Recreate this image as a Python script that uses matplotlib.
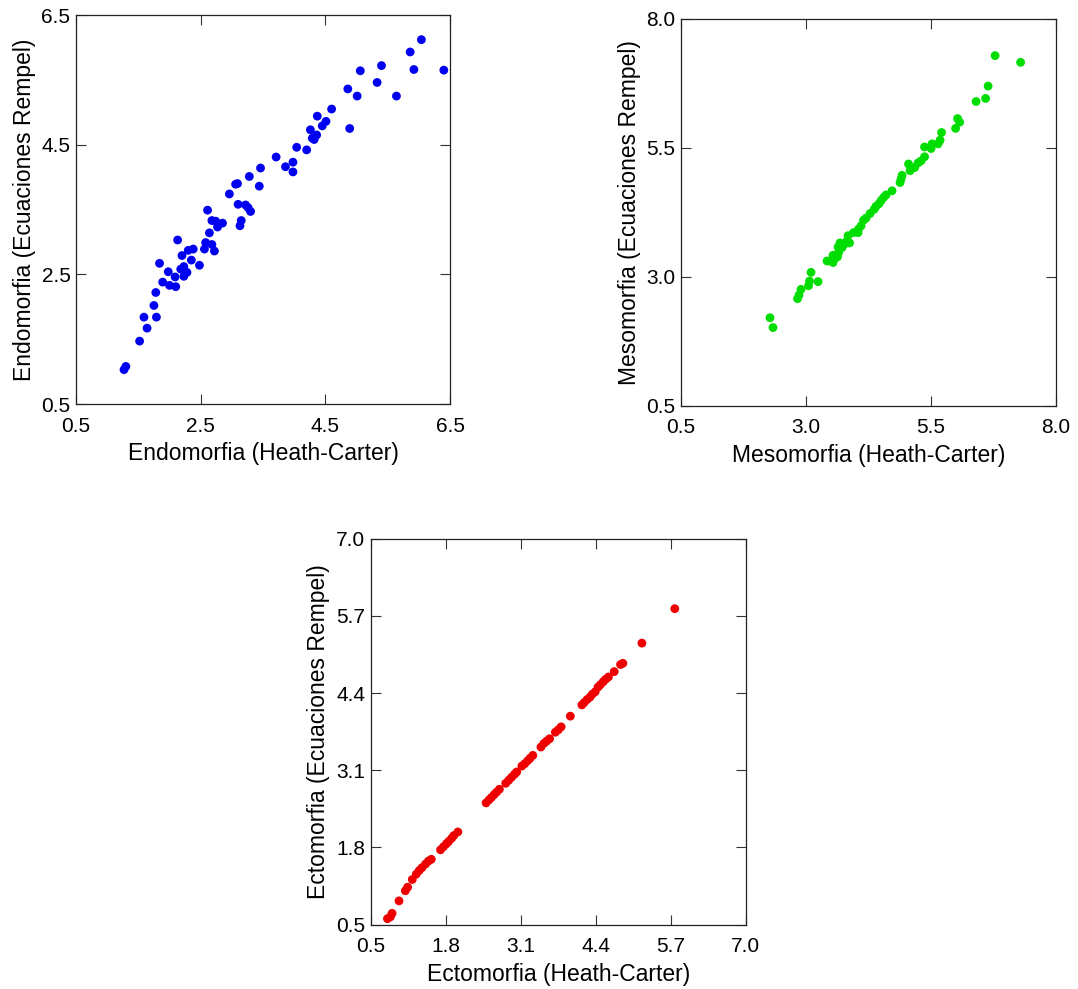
import matplotlib
matplotlib.use("Agg")
import matplotlib.pyplot as plt

plt.rcParams['font.family'] = ['Liberation Sans', 'DejaVu Sans']

# Endomorfia
endo_hc = [1.27, 1.30, 1.52, 1.59, 1.64, 1.79, 1.75, 1.78, 1.84, 1.89,
           1.98, 2.00, 2.10, 2.09, 2.13, 2.18, 2.20, 2.23, 2.23, 2.28,
           2.30, 2.35, 2.38, 2.48, 2.56, 2.58, 2.61, 2.64, 2.68, 2.68,
           2.72, 2.74, 2.77, 2.85, 2.96, 3.06, 3.09, 3.10, 3.15, 3.13,
           3.22, 3.26, 3.30, 3.28, 3.44, 3.46, 3.71, 3.86, 3.98, 3.98,
           4.04, 4.20, 4.26, 4.29, 4.32, 4.36, 4.37, 4.45, 4.51, 4.60,
           4.86, 4.89, 5.01, 5.06, 5.33, 5.40, 5.64, 5.86, 5.92, 6.04,
           6.40]
endo_rempel = [1.03, 1.08, 1.47, 1.84, 1.67, 1.84, 2.02, 2.22, 2.67, 2.38,
               2.54, 2.33, 2.31, 2.46, 3.03, 2.58, 2.79, 2.62, 2.47, 2.53,
               2.87, 2.72, 2.89, 2.64, 2.89, 2.99, 3.49, 3.14, 2.96, 3.33,
               2.86, 3.32, 3.23, 3.29, 3.74, 3.89, 3.90, 3.58, 3.33, 3.25,
               3.57, 3.53, 3.47, 4.01, 3.86, 4.14, 4.31, 4.16, 4.23, 4.08,
               4.46, 4.42, 4.73, 4.60, 4.58, 4.65, 4.94, 4.79, 4.86, 5.05,
               5.36, 4.75, 5.25, 5.64, 5.46, 5.72, 5.25, 5.93, 5.66, 6.12,
               5.65]

# Mesomorfia
meso_hc = [2.28, 2.34, 2.83, 2.86, 2.90, 3.05, 3.07, 3.10, 3.24, 3.42,
           3.48, 3.54, 3.57, 3.54, 3.63, 3.65, 3.64, 3.68, 3.72, 3.76,
           3.82, 3.84, 3.87, 3.95, 4.04, 4.05, 4.10, 4.15, 4.20, 4.28,
           4.36, 4.40, 4.46, 4.50, 4.55, 4.60, 4.72, 4.88, 4.90, 4.92,
           5.05, 5.08, 5.17, 5.24, 5.30, 5.37, 5.37, 5.50, 5.52, 5.64,
           5.68, 5.71, 5.99, 6.03, 6.07, 6.40, 6.59, 6.64, 6.78, 7.29]
meso_rempel = [2.21, 2.02, 2.58, 2.65, 2.76, 2.83, 2.92, 3.09, 2.91, 3.31,
               3.31, 3.28, 3.35, 3.42, 3.39, 3.47, 3.58, 3.66, 3.57, 3.63,
               3.70, 3.80, 3.66, 3.86, 3.86, 3.93, 3.99, 4.10, 4.14, 4.23,
               4.31, 4.37, 4.42, 4.48, 4.54, 4.59, 4.67, 4.83, 4.90, 4.97,
               5.19, 5.06, 5.12, 5.21, 5.25, 5.33, 5.52, 5.49, 5.58, 5.58,
               5.65, 5.80, 5.88, 6.07, 6.00, 6.40, 6.46, 6.70, 7.29, 7.16]

# Ectomorfia
ecto_hc = [0.79, 0.84, 0.87, 0.99, 1.10, 1.14, 1.22, 1.29, 1.34, 1.39,
           1.45, 1.50, 1.55, 1.71, 1.76, 1.81, 1.85, 1.90, 1.94, 2.01,
           2.50, 2.55, 2.59, 2.64, 2.68, 2.73, 2.84, 2.89, 2.94, 2.99,
           3.03, 3.12, 3.17, 3.22, 3.26, 3.31, 3.45, 3.50, 3.55, 3.60,
           3.70, 3.75, 3.80, 3.96, 4.16, 4.20, 4.25, 4.30, 4.34, 4.39,
           4.44, 4.48, 4.53, 4.57, 4.62, 4.72, 4.83, 4.87, 5.20, 5.77]
ecto_rempel = [0.60, 0.63, 0.69, 0.90, 1.07, 1.13, 1.26, 1.35, 1.41, 1.46,
               1.52, 1.57, 1.60, 1.76, 1.81, 1.86, 1.90, 1.95, 2.00, 2.06,
               2.55, 2.60, 2.64, 2.69, 2.73, 2.78, 2.88, 2.93, 2.98, 3.03,
               3.07, 3.17, 3.21, 3.26, 3.30, 3.35, 3.49, 3.55, 3.59, 3.63,
               3.74, 3.78, 3.83, 4.01, 4.20, 4.24, 4.29, 4.33, 4.38, 4.42,
               4.50, 4.54, 4.59, 4.63, 4.67, 4.76, 4.88, 4.90, 5.24, 5.82]

endo_ticks = [0.5, 2.5, 4.5, 6.5]
meso_ticks = [0.5, 3.0, 5.5, 8.0]
ecto_ticks = [0.5, 1.8, 3.1, 4.4, 5.7, 7.0]


def panel(fig, rect, x, y, ticks, color, xlabel, ylabel):
    ax = fig.add_axes(rect)
    ax.scatter(x, y, s=40, color=color, edgecolors='none', zorder=3)
    ax.set_xlim(ticks[0], ticks[-1])
    ax.set_ylim(ticks[0], ticks[-1])
    ax.set_xticks(ticks)
    ax.set_yticks(ticks)
    ax.set_xticklabels(["%.1f" % t for t in ticks])
    ax.set_yticklabels(["%.1f" % t for t in ticks])
    ax.tick_params(direction='in', length=7.5, width=0.8, color='#333333',
                   top=True, right=True, labelsize=15)
    ax.tick_params(axis='x', pad=9)
    ax.tick_params(axis='y', pad=4)
    for sp in ax.spines.values():
        sp.set_linewidth(0.9)
        sp.set_color('#222222')
    ax.set_xlabel(xlabel, fontsize=16.5, labelpad=5)
    ax.set_ylabel(ylabel, fontsize=16.5, labelpad=4)
    return ax


fig = plt.figure(figsize=(10.78, 9.89), dpi=100)

panel(fig, [0.0705, 0.5915, 0.347, 0.3933], endo_hc, endo_rempel, endo_ticks,
      '#0000f0', "Endomorfia (Heath-Carter)", "Endomorfia (Ecuaciones Rempel)")
panel(fig, [0.6317, 0.5895, 0.348, 0.3913], meso_hc, meso_rempel, meso_ticks,
      '#00dd00', "Mesomorfia (Heath-Carter)", "Mesomorfia (Ecuaciones Rempel)")
panel(fig, [0.3439, 0.0651, 0.3479, 0.3903], ecto_hc, ecto_rempel, ecto_ticks,
      '#ee0000', "Ectomorfia (Heath-Carter)", "Ectomorfia (Ecuaciones Rempel)")

fig.savefig("out.png", dpi=100)
